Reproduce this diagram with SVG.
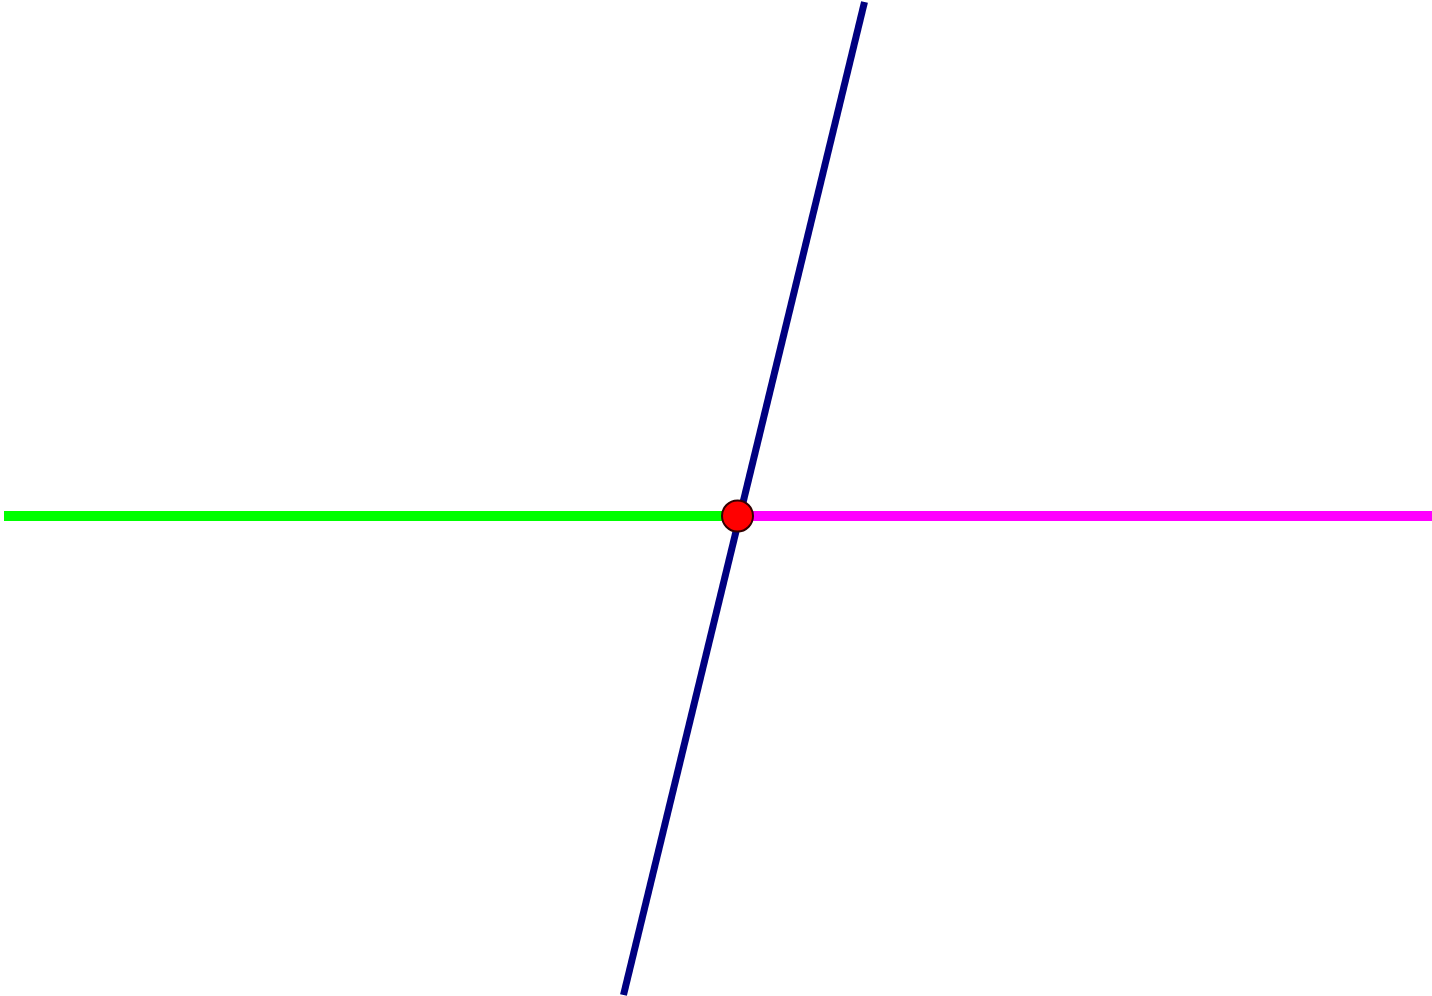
<svg xmlns="http://www.w3.org/2000/svg" width="1432" height="996" viewBox="0 0 1432 996">
<style>
.ln{stroke-linecap:butt;fill:none}
</style>
<rect width="1432" height="996" fill="#ffffff"/>
<g id="connectors">
<line id="green" class="ln" x1="4" y1="516" x2="737" y2="516" stroke="#00ff00" stroke-width="10"/>
<line id="magenta" class="ln" x1="737" y1="516" x2="1432" y2="516" stroke="#ff00ff" stroke-width="10"/>
<line id="blue" class="ln" x1="864.5" y1="2" x2="623.5" y2="995" stroke="#000080" stroke-width="7"/>
</g>
<g id="point">
<circle cx="737.5" cy="516" r="15.5" fill="#ff0000" stroke="#330000" stroke-width="2"/>
</g>
</svg>
